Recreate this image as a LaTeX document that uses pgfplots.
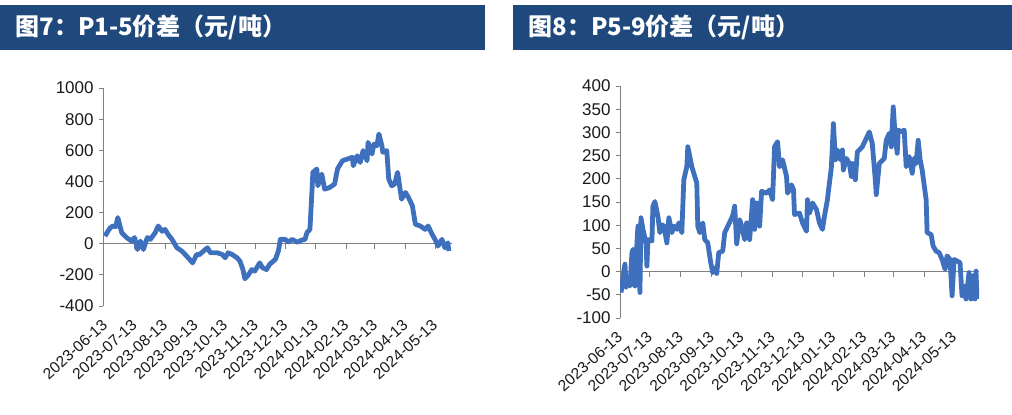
\documentclass[border=0pt]{standalone}
\usepackage{fontspec}
\setmainfont{Liberation Sans}
\newfontfamily\cjk{Noto Sans CJK SC}
\usepackage{pgfplots}
\pgfplotsset{compat=1.18}
\definecolor{hdr}{RGB}{31,73,125}
\definecolor{ln}{RGB}{62,112,189}
\definecolor{ax}{RGB}{128,128,128}
\definecolor{tx}{RGB}{26,26,26}
\pgfplotsset{
 mystyle/.style={
  scale only axis, anchor=south west,
  axis x line*=bottom, axis y line*=left,
  x axis line style={draw=none},
  y axis line style={ax, line width=0.5pt},
  xtick style={draw=none},
  ytick style={ax, line width=0.5pt},
  tick align=outside, major tick length=2pt,
  tick label style={font=\fontsize{8.5}{9}\selectfont, text=tx},
  /pgf/number format/assume math mode=true,
  /pgf/number format/1000 sep={},
  xtick={0,30,61,92,122,153,183,214,245,274,305,335},
  xticklabels={2023-06-13,2023-07-13,2023-08-13,2023-09-13,2023-10-13,2023-11-13,2023-12-13,2024-01-13,2024-02-13,2024-03-13,2024-04-13,2024-05-13},
  xticklabel style={font=\fontsize{7.8}{9}\selectfont, yshift=-4pt, xshift=-2pt, rotate=42, anchor=north east, inner sep=0pt},
  yticklabel style={inner sep=0pt, xshift=-2.5pt},
 }
}
\pgfplotstableread{
d v
0 49
5 100
8 114
11 110
13 168
17 71
22 39
27 17
30 40
33 -37
36 17
39 -37
43 40
46 28
51 71
54 114
58 80
61 92
64 60
68 28
73 -26
78 -47
83 -80
89 -123
93 -69
96 -70
100 -47
104 -26
107 -58
114 -58
119 -69
122 -90
125 -58
129 -69
134 -90
137 -112
140 -166
142 -225
145 -205
149 -166
152 -176
157 -123
160 -155
164 -166
167 -133
173 -100
176 -47
178 28
183 28
186 10
190 28
195 10
200 24
203 28
205 71
208 92
210 329
211 458
215 480
216 372
220 447
223 350
228 361
233 383
236 480
241 533
246 544
251 555
252 501
256 565
259 522
262 598
266 533
267 651
271 576
273 640
276 630
278 705
281 630
282 587
286 598
288 415
291 372
294 383
297 458
301 286
305 329
308 297
312 243
315 125
320 114
325 92
328 114
332 60
335 28
338 -15
342 28
345 -26
348 6
349 -47
}\tabA
\pgfplotstableread{
d v
1 -45
3 -16
4 5
5 16
6 -34
8 -24
10 -31
12 41
13 48
15 -31
17 62
18 98
20 -45
21 116
23 91
26 62
27 12
28 69
32 66
33 141
35 151
38 119
40 84
42 101
44 98
47 62
49 116
52 84
54 98
57 91
59 105
62 84
64 198
67 226
68 269
70 248
72 226
77 191
78 98
80 84
83 105
85 69
88 62
91 19
93 -2
96 9
97 -4
99 41
103 44
105 84
113 120
115 141
117 60
120 112
122 98
125 69
127 105
130 69
133 155
135 91
137 148
140 98
142 173
147 169
150 176
153 155
155 269
158 280
160 226
163 241
167 205
168 169
172 187
174 176
175 123
180 126
183 105
187 87
188 155
190 126
193 148
197 134
200 105
203 91
205 119
208 155
212 226
214 319
216 241
218 262
221 241
223 262
224 219
227 244
230 233
232 205
233 233
236 198
238 258
243 269
250 301
253 276
256 198
257 166
260 233
265 244
267 283
270 298
272 269
274 355
276 291
278 255
279 305
282 301
285 305
287 226
290 248
293 212
295 244
297 233
299 283
301 241
303 219
307 155
308 84
312 80
314 55
317 44
320 41
323 26
326 5
328 34
331 26
333 -52
335 26
338 23
341 19
343 -52
345 -31
347 -59
350 -2
352 -59
354 -9
356 -59
357 1
358 -59
}\tabB
\begin{document}
\begin{tikzpicture}
\useasboundingbox (0,0) rectangle (506pt,-207pt);
\fill[hdr] (0,-2.5pt) rectangle (242.5pt,-25pt);
\fill[hdr] (256.5pt,-2.5pt) rectangle (506pt,-25pt);
\node[anchor=west, text=white, font=\cjk\bfseries\fontsize{12}{13}\selectfont, inner sep=0pt] at (7.5pt,-13.75pt) {图7：P1-5价差（元/吨）};
\node[anchor=west, text=white, font=\cjk\bfseries\fontsize{12}{13}\selectfont, inner sep=0pt] at (264pt,-13.75pt) {图8：P5-9价差（元/吨）};
\begin{axis}[mystyle, at={(51.5pt,-153pt)}, width=174.4pt, height=109pt,
  xmin=-2, xmax=352, ymin=-400, ymax=1000, ytick={-400,-200,...,1000}]
\draw[ax, line width=0.5pt] (axis cs:-2,0) -- (axis cs:352,0);
\pgfplotsinvokeforeach{30,61,92,122,153,183,214,245,274,305,335}{
  \draw[ax, line width=0.5pt] (axis cs:#1,0) -- ([yshift=-2.5pt]axis cs:#1,0);
}
\addplot[ln, line width=2.4pt, line join=round] table[x=d,y=v] {\tabA};
\end{axis}
\begin{axis}[mystyle, at={(310pt,-159pt)}, width=179.5pt, height=116pt,
  xmin=0, xmax=360, ymin=-100, ymax=400, ytick={-100,-50,...,400}]
\draw[ax, line width=0.5pt] (axis cs:0,0) -- (axis cs:360,0);
\pgfplotsinvokeforeach{30,61,92,122,153,183,214,245,274,305,335}{
  \draw[ax, line width=0.5pt] (axis cs:#1,0) -- ([yshift=-2.5pt]axis cs:#1,0);
}
\addplot[ln, line width=2.4pt, line join=round] table[x=d,y=v] {\tabB};
\end{axis}
\end{tikzpicture}
\end{document}
